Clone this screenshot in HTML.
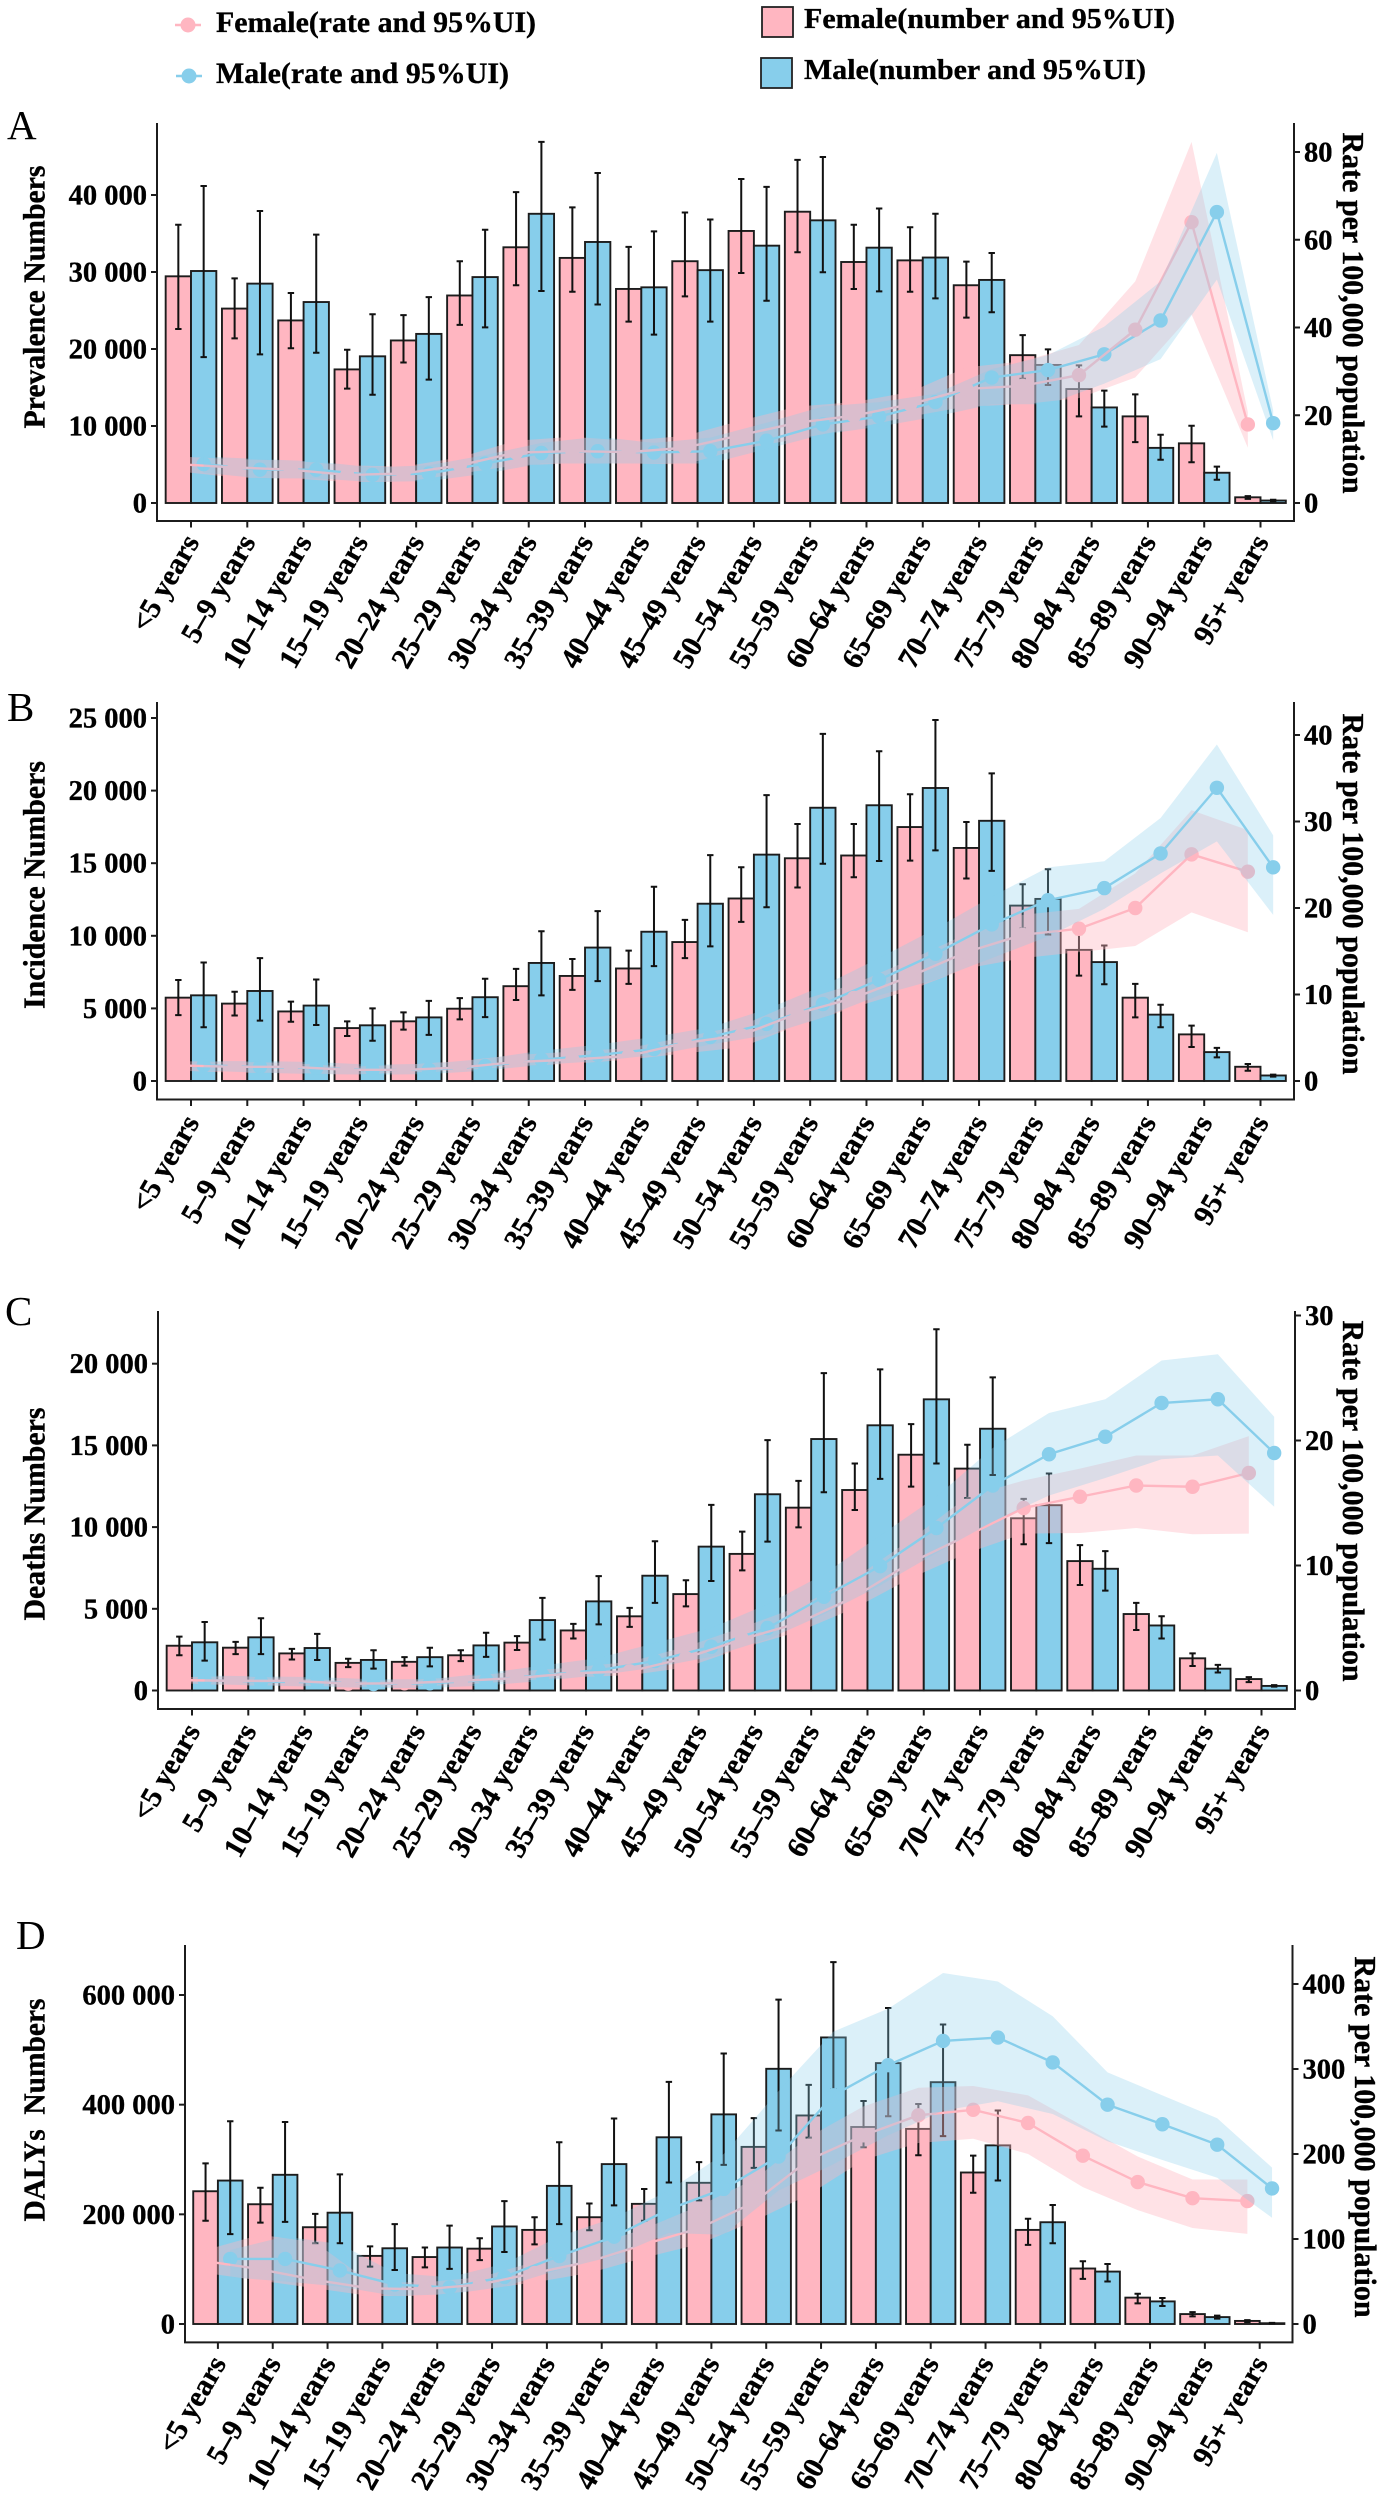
<!DOCTYPE html>
<html lang="en">
<head>
<meta charset="utf-8">
<title>Prevalence, incidence, deaths and DALYs by age and sex</title>
<style>
html,body{margin:0;padding:0;background:#fff;}
svg{display:block;}
text{font-family:"Liberation Serif",serif;fill:#000;}
.b{font-weight:bold;stroke:#000;stroke-width:0.35px;}
</style>
</head>
<body>
<svg id="chart" xmlns="http://www.w3.org/2000/svg" width="1384" height="2500" viewBox="0 0 1384 2500">
<rect x="0" y="0" width="1384" height="2500" fill="#fff"/>
<g>
  <g>
    <line x1="175" y1="25" x2="201" y2="25" stroke="#FFB6C1" stroke-width="2.5"/>
    <circle cx="188" cy="25" r="7.5" fill="#FFB6C1"/>
    <text class="b" x="216" y="32" font-size="30" textLength="320" lengthAdjust="spacingAndGlyphs">Female(rate and 95%UI)</text>
  </g>
  <g>
    <line x1="176" y1="76" x2="202" y2="76" stroke="#87CEEB" stroke-width="2.5"/>
    <circle cx="189" cy="76" r="7.5" fill="#87CEEB"/>
    <text class="b" x="216" y="83" font-size="30" textLength="293" lengthAdjust="spacingAndGlyphs">Male(rate and 95%UI)</text>
  </g>
  <g>
    <rect x="762" y="7" width="31" height="30" fill="#FFB6C1" stroke="#222" stroke-width="1.8"/>
    <text class="b" x="804" y="28" font-size="29" textLength="371" lengthAdjust="spacingAndGlyphs">Female(number and 95%UI)</text>
  </g>
  <g>
    <rect x="761" y="58" width="31" height="30" fill="#87CEEB" stroke="#222" stroke-width="1.8"/>
    <text class="b" x="804" y="79" font-size="29" textLength="342" lengthAdjust="spacingAndGlyphs">Male(number and 95%UI)</text>
  </g>
</g>
</svg>
<script>
const categories = ["<5 years","5–9 years","10–14 years","15–19 years","20–24 years","25–29 years","30–34 years","35–39 years","40–44 years","45–49 years","50–54 years","55–59 years","60–64 years","65–69 years","70–74 years","75–79 years","80–84 years","85–89 years","90–94 years","95+ years"];

/* Panel A: prevalence */
const aLeftTicks = [0,10000,20000,30000,40000];
const aRightTicks = [0,20,40,60,80];
const aFemaleNum = [29440,25250,23710,17350,21110,26950,33210,31830,27800,31400,35330,37830,31300,31510,28280,19200,14800,11250,7750,740];
const aFemaleNumLo = [22600,21380,20100,14850,18250,23130,28280,27430,23550,26840,29870,32570,27800,27430,24080,16130,11250,7900,5300,530];
const aFemaleNumHi = [36130,29180,27270,19900,24400,31400,40370,38400,33260,37720,42070,44560,36130,35810,31350,21800,17880,14110,10030,900];
const aMaleNum = [30130,28490,26100,19050,21960,29340,37560,33900,28010,30240,33420,36710,33160,31880,28970,17930,12410,7160,3930,320];
const aMaleNumLo = [18940,19310,19520,14060,16020,22810,27530,25780,21860,23550,26260,29970,27480,26580,24770,15330,9920,5620,3020,210];
const aMaleNumHi = [41170,37930,34850,24510,26740,35490,46900,42860,35280,36820,41060,44930,38250,37560,32470,19950,14590,8860,4720,420];
const aFemaleRate = [8.85,8.1,7.6,6.4,6.7,8.6,11.5,11.8,11.6,12.6,15.5,18.3,19.9,22.5,26,26.7,29.15,39.5,64,17.9];
const aFemaleRateLo = [7.2,5.8,5.6,4.8,4.8,6.7,8.6,9,9,8.8,12.3,14.6,17,19.7,22,22.5,23.9,28.6,43,12.6];
const aFemaleRateHi = [10.6,10,9.7,8.6,8.3,10.4,14.2,15.1,14.2,15.3,18.8,22,23,25.3,30.9,32.3,36,50.5,82.3,20.7];
const aMaleRate = [8.85,7.6,7.6,6.4,6.7,9,11.4,11.8,11.5,11.8,14.2,17.9,19.7,23,28.6,30.3,33.9,41.6,66.3,18.2];
const aMaleRateLo = [6.9,5.6,5.6,4.8,5,6.7,9,9,9,9,12.3,15.6,17.4,19.7,22.5,22.5,27.2,32.8,50.9,14.3];
const aMaleRateHi = [10.6,10,9.5,8.1,8.6,10.9,13.7,15.1,13.7,14.9,18.3,22,23,24.9,30.5,33.7,40.2,50.5,79.8,21.1];

/* Panel B: incidence */
const bLeftTicks = [0,5000,10000,15000,20000,25000];
const bRightTicks = [0,10,20,30,40];
const bFemaleNum = [5740,5330,4790,3645,4110,4980,6530,7235,7750,9570,12570,15340,15530,17490,16050,12080,9030,5740,3210,980];
const bFemaleNumLo = [4540,4515,4080,3100,3540,4240,5580,6280,6690,8460,10960,13330,14035,15180,13950,10500,7260,4380,2340,710];
const bFemaleNumHi = [6960,6150,5470,4110,4730,5710,7725,8400,8980,11100,14720,17700,17700,19750,17840,13550,10090,6690,3810,1170];
const bMaleNum = [5900,6200,5195,3835,4380,5770,8130,9190,10280,12210,15590,18820,18990,20180,17920,12540,8190,4570,1990,380];
const bMaleNumLo = [3700,4160,3860,2775,3180,4400,5900,6880,7915,9275,11970,14960,15150,15880,14470,10090,6660,3700,1630,300];
const bMaleNumHi = [8160,8460,6990,5005,5520,7045,10310,11700,13380,15560,19690,23910,22710,24860,21190,14580,9330,5250,2280,435];
const bFemaleRate = [1.8,1.64,1.64,1.3,1.28,1.55,2.2,2.47,2.9,4.4,5.3,7.8,9.6,12.1,14.9,16.9,17.6,20,26.2,24.2];
const bFemaleRateLo = [1.2,0.96,0.96,0.73,0.96,1.2,1.73,2,2.47,3.2,3.9,6.4,8.5,10.5,13,14.2,14.9,15.6,19.5,17.2];
const bFemaleRateHi = [2.3,2.2,2.1,1.64,1.87,2.3,3,3.4,3.8,5.1,6.4,9.2,11.2,14,17,19.2,19.9,24,31.3,29];
const bMaleRate = [1.8,1.64,1.5,1.28,1.3,1.73,2.47,3,3.7,5.1,6.6,8.9,11.7,14.7,18.1,20.9,22.3,26.3,33.9,24.7];
const bMaleRateLo = [1.2,0.96,0.8,0.73,0.8,1.2,1.87,2.3,3,4.2,5.3,7.35,9.9,11.7,14.2,16.7,19.9,24,27.7,19.2];
const bMaleRateHi = [2.3,2.3,2.2,1.87,2,2.56,3.5,4.2,5.1,6.2,8.3,11,14.2,17.6,21.3,24.7,25.4,30.4,38.9,28.4];

/* Panel C: deaths */
const cLeftTicks = [0,5000,10000,15000,20000];
const cRightTicks = [0,10,20,30];
const cFemaleNum = [2740,2620,2270,1690,1755,2155,2930,3675,4540,5900,8360,11190,12270,14430,13580,10540,7920,4680,1970,700];
const cFemaleNumLo = [2155,2225,1900,1430,1520,1800,2480,3185,3890,5150,7350,9980,11050,12480,11780,8950,6460,3700,1500,515];
const cFemaleNumHi = [3300,2975,2550,1945,2040,2460,3325,4075,5060,6745,9720,12830,13890,16300,15040,11730,8900,5360,2270,820];
const cMaleNum = [2950,3255,2600,1870,2040,2760,4310,5455,7025,8805,12010,15390,16230,17820,16020,11340,7450,3980,1335,280];
const cMaleNumLo = [1830,2225,1870,1335,1475,2060,3115,4050,5360,6700,9110,12130,12950,13890,13190,9020,6110,3185,1100,235];
const cMaleNumHi = [4190,4425,3465,2460,2620,3535,5670,7000,9135,11360,15320,19420,19650,22110,19160,13280,8530,4545,1570,330];
const cFemaleRate = [0.83,0.77,0.77,0.55,0.58,0.77,1,1.38,1.53,2.6,4.1,5.4,7.5,10.25,12.4,14.6,15.5,16.4,16.3,17.4];
const cFemaleRateLo = [0.6,0.4,0.4,0.3,0.3,0.46,0.77,1.07,1.22,1.84,3.4,4.7,6.6,9,11,12.55,12.6,13,12.5,12.55];
const cFemaleRateHi = [1.07,1.13,1,0.77,0.83,1.07,1.53,1.84,2.3,3.5,5.05,6.7,9,12.1,15.5,16.8,17.75,18.8,18.8,20.35];
const cMaleRate = [0.83,0.7,0.67,0.52,0.58,0.83,1.22,1.62,2.36,3.5,5,7.5,9.95,13,16.4,18.9,20.3,23,23.3,19];
const cMaleRateLo = [0.52,0.4,0.3,0.2,0.2,0.4,0.77,1.22,1.84,2.7,4.1,6.1,8.4,11,13.5,15.6,17,18.5,18.8,14.7];
const cMaleRateHi = [1.2,1.13,1.07,0.9,0.9,1.38,2,2.6,3.8,5,6.9,9.3,12.4,15.5,19.4,22.2,23.3,26.4,26.9,21.9];

/* Panel D: DALYs */
const dLeftTicks = [0,200000,400000,600000];
const dRightTicks = [0,100,200,300,400];
const dFemaleNum = [242100,218400,176500,124200,122100,137400,171600,194700,219100,257500,323000,380300,359300,355800,276300,171600,101200,48100,18100,5600];
const dFemaleNumLo = [188400,184900,147200,104700,103300,116500,145100,170900,188400,225400,284700,339800,322300,307700,239300,144400,82300,37700,14000,3500];
const dFemaleNumHi = [293000,248400,200900,141600,139500,156300,194700,219800,246300,295100,375400,436100,406800,401200,307000,191900,114400,55100,21600,7000];
const dMaleNum = [261600,272100,203000,138100,139500,177900,251900,291600,340500,382300,465400,522600,475800,441000,325800,185600,95600,41200,12600,1400];
const dMaleNumLo = [164000,186300,147200,98400,100500,131200,182100,216300,258100,290200,353000,427700,378900,342600,261600,147200,77400,32800,9800,700];
const dMaleNumHi = [369800,368400,272800,182100,179300,224000,331400,374700,441600,493300,591600,660000,576300,546300,389300,217000,109500,47400,15300,2100];
const dFemaleRate = [73.9,64.4,51.8,41.9,41,46.4,59.9,73.4,93.7,112.6,143,193,222,245.5,252,236.5,198,167,148,144.6];
const dFemaleRateLo = [60,51,42,33,33,40,49,60,78,94,121,152,193,213,218,200,161,134,113,106];
const dFemaleRateHi = [87,105,96,49,49,55,73,91,112,139,170,220,256,278,280,269,233,197,170,170];
const dMaleRate = [76.6,76.6,63,46.4,43,55.4,80,102.7,135,159,197,269,304.5,333,337,307.7,258,235,211,159.5];
const dMaleRateLo = [55,50,44,33,35,44,64,80,107,105,157,188,222,251,262,247,215,193,172,125];
const dMaleRateHi = [87,103,94,60,55,71,103,125,157,200,274,344,371,413,403,362,296,269,242,184];

const PINK = "#FFB6C1";
const BLUE = "#87CEEB";
const INK = "#1c1c1c";
const NS = "http://www.w3.org/2000/svg";
const svg = document.getElementById("chart");

function node(parent, tag, attrs, txt) {
  const el = document.createElementNS(NS, tag);
  for (const k in attrs) el.setAttribute(k, attrs[k]);
  if (txt !== undefined) el.textContent = txt;
  parent.appendChild(el);
  return el;
}
function scale(v0, p0, v1, p1) {
  return function (v) { return p0 + (v - v0) * (p1 - p0) / (v1 - v0); };
}
function fmt(v) {
  return String(v).replace(/\B(?=(\d{3})+(?!\d))/g, " ");
}
function slug(s) {
  return s.replace(/[^0-9a-zA-Z]+/g, "-").replace(/^-|-$/g, "").toLowerCase();
}

function drawPanel(p) {
  const g = node(svg, "g", {});
  
  
  const x = scale(0, p.tick0, categories.length - 1, p.tickN);
  const step = (p.tickN - p.tick0) / (categories.length - 1);
  const barW = step * 0.45;
  const yL = scale(0, p.y0, p.leftRefV, p.leftRefY);
  const yR = scale(0, p.y0, p.rightRefV, p.rightRefY);

  const letter = node(g, "text", {x: p.letterX, y: p.letterY, "font-size": 41}, p.letter);
  
  

  /* bars */
  const barG = node(g, "g", {});
  
  
  categories.forEach(function (c, i) {
    const f = node(barG, "rect", {x: x(i) - barW, y: yL(p.fNum[i]), width: barW, height: p.y0 - yL(p.fNum[i]), fill: PINK, stroke: INK, "stroke-width": 1.9});
    
    
    const m = node(barG, "rect", {x: x(i), y: yL(p.mNum[i]), width: barW, height: p.y0 - yL(p.mNum[i]), fill: BLUE, stroke: INK, "stroke-width": 1.9});
    
    
  });

  /* error bars */
  const errG = node(g, "g", {});
  
  
  function err(cx, lo, hi, nm) {
    const e = node(errG, "path", {
      d: "M" + (cx - 3.2) + " " + yL(hi) + "H" + (cx + 3.2) + "M" + cx + " " + yL(hi) + "V" + yL(lo) + "M" + (cx - 3.2) + " " + yL(lo) + "H" + (cx + 3.2),
      fill: "none", stroke: "#111", "stroke-width": 2
    });
    
    
  }
  categories.forEach(function (c, i) {
    err(x(i) - barW / 2, p.fNumLo[i], p.fNumHi[i], 'error-bar-female-' + slug(c));
    err(x(i) + barW / 2, p.mNumLo[i], p.mNumHi[i], 'error-bar-male-' + slug(c));
  });

  function ribbon(off, lo, hi, col, op, nm) {
    let d = "";
    categories.forEach(function (c, i) { d += (i ? "L" : "M") + (x(i) + off) + " " + yR(hi[i]); });
    for (let i = categories.length - 1; i >= 0; i--) d += "L" + (x(i) + off) + " " + yR(lo[i]);
    const r = node(g, "path", {d: d + "Z", fill: col, "fill-opacity": op, stroke: "none"});
    
    
  }
  function series(off, vals, col, nm) {
    const line = node(g, "polyline", {
      points: vals.map(function (v, i) { return (x(i) + off) + "," + yR(v); }).join(" "),
      fill: "none", stroke: col, "stroke-width": 2.4
    });
    
    
    vals.forEach(function (v, i) {
      const pt = node(g, "circle", {cx: x(i) + off, cy: yR(v), r: 7.2, fill: col});
      
      
    });
  }
  ribbon(-barW / 2, p.fRateLo, p.fRateHi, PINK, 0.4, 'rate-ribbon-female');
  series(barW / 2, p.mRate, BLUE, 'male');
  series(-barW / 2, p.fRate, PINK, 'female');
  ribbon(barW / 2, p.mRateLo, p.mRateHi, BLUE, 0.3, 'rate-ribbon-male');

  /* axes */
  const axisAttrs = {fill: "none", stroke: INK, "stroke-width": 2};
  const axL = node(g, "path", Object.assign({d: "M" + p.axisL + " " + p.top + "V" + p.bottom + "H" + p.axisR + "V" + p.top}, axisAttrs));
  
  

  categories.forEach(function (c, i) {
    const t = node(g, "line", Object.assign({x1: x(i), x2: x(i), y1: p.bottom, y2: p.bottom + 6.5}, axisAttrs));
    
    
    const ax = x(i) + 9;
    const ay = p.bottom + p.labelDy;
    const lb = node(g, "text", {class: "b", x: ax, y: ay, "font-size": 29.5, "text-anchor": "end", transform: "rotate(-60 " + ax + " " + ay + ")"}, c);
    
    
  });
  p.leftTicks.forEach(function (v) {
    const t = node(g, "line", Object.assign({x1: p.axisL - 6, x2: p.axisL, y1: yL(v), y2: yL(v)}, axisAttrs));
    
    
    const lb = node(g, "text", {class: "b", x: p.axisL - 10, y: yL(v) + 9.5, "font-size": 28.5, "text-anchor": "end"}, fmt(v));
    
    
  });
  p.rightTicks.forEach(function (v) {
    const t = node(g, "line", Object.assign({x1: p.axisR, x2: p.axisR + 6, y1: yR(v), y2: yR(v)}, axisAttrs));
    
    
    const lb = node(g, "text", {class: "b", x: p.axisR + 10, y: yR(v) + 9.5, "font-size": 28.5}, fmt(v));
    
    
  });

  const tl = node(g, "text", {class: "b", x: 0, y: 0, "font-size": 31, "text-anchor": "middle", transform: "translate(" + 44.5 + " " + p.titleLY + ") rotate(-90)", textLength: p.titleLLen, lengthAdjust: "spacingAndGlyphs"}, p.titleL);
  
  
  const tr = node(g, "text", {class: "b", x: 0, y: 0, "font-size": 31, "text-anchor": "middle", transform: "translate(" + p.titleRX + " " + p.titleRY + ") rotate(90)", textLength: p.titleRLen, lengthAdjust: "spacingAndGlyphs"}, "Rate per 100,000 population");
  
  
}

drawPanel({id:"a", letter:"A", letterX:7, letterY:139, top:123, bottom:521, axisL:157, axisR:1294, tick0:191, tickN:1260.5, y0:503, leftRefV:40000, leftRefY:195, rightRefV:80, rightRefY:152, labelDy:21, titleL:"Prevalence Numbers", titleLY:297, titleLLen:263, titleRX:1343, titleRY:313, titleRLen:361, leftTicks:aLeftTicks, rightTicks:aRightTicks, fNum:aFemaleNum, fNumLo:aFemaleNumLo, fNumHi:aFemaleNumHi, mNum:aMaleNum, mNumLo:aMaleNumLo, mNumHi:aMaleNumHi, fRate:aFemaleRate, fRateLo:aFemaleRateLo, fRateHi:aFemaleRateHi, mRate:aMaleRate, mRateLo:aMaleRateLo, mRateHi:aMaleRateHi});
drawPanel({id:"b", letter:"B", letterX:7, letterY:721, top:702, bottom:1099.5, axisL:157, axisR:1294, tick0:191, tickN:1260.5, y0:1081, leftRefV:25000, leftRefY:718, rightRefV:40, rightRefY:735, labelDy:23, titleL:"Incidence Numbers", titleLY:885, titleLLen:248, titleRX:1343, titleRY:894, titleRLen:361, leftTicks:bLeftTicks, rightTicks:bRightTicks, fNum:bFemaleNum, fNumLo:bFemaleNumLo, fNumHi:bFemaleNumHi, mNum:bMaleNum, mNumLo:bMaleNumLo, mNumHi:bMaleNumHi, fRate:bFemaleRate, fRateLo:bFemaleRateLo, fRateHi:bFemaleRateHi, mRate:bMaleRate, mRateLo:bMaleRateLo, mRateHi:bMaleRateHi});
drawPanel({id:"c", letter:"C", letterX:5, letterY:1325, top:1311, bottom:1709, axisL:158, axisR:1295, tick0:192, tickN:1261.5, y0:1690.5, leftRefV:20000, leftRefY:1363.7, rightRefV:30, rightRefY:1315.5, labelDy:22, titleL:"Deaths Numbers", titleLY:1514, titleLLen:213, titleRX:1343, titleRY:1501, titleRLen:361, leftTicks:cLeftTicks, rightTicks:cRightTicks, fNum:cFemaleNum, fNumLo:cFemaleNumLo, fNumHi:cFemaleNumHi, mNum:cMaleNum, mNumLo:cMaleNumLo, mNumHi:cMaleNumHi, fRate:cFemaleRate, fRateLo:cFemaleRateLo, fRateHi:cFemaleRateHi, mRate:cMaleRate, mRateLo:cMaleRateLo, mRateHi:cMaleRateHi});
drawPanel({id:"d", letter:"D", letterX:16, letterY:1949, top:1945, bottom:2342.4, axisL:185, axisR:1292.5, tick0:217.9, tickN:1259.7, y0:2324, leftRefV:600000, leftRefY:1995, rightRefV:400, rightRefY:1984, labelDy:21, titleL:"DALYs\u00A0\u00A0Numbers", titleLY:2110, titleLLen:223, titleRX:1355, titleRY:2137, titleRLen:361, leftTicks:dLeftTicks, rightTicks:dRightTicks, fNum:dFemaleNum, fNumLo:dFemaleNumLo, fNumHi:dFemaleNumHi, mNum:dMaleNum, mNumLo:dMaleNumLo, mNumHi:dMaleNumHi, fRate:dFemaleRate, fRateLo:dFemaleRateLo, fRateHi:dFemaleRateHi, mRate:dMaleRate, mRateLo:dMaleRateLo, mRateHi:dMaleRateHi});
</script>
</body>
</html>
